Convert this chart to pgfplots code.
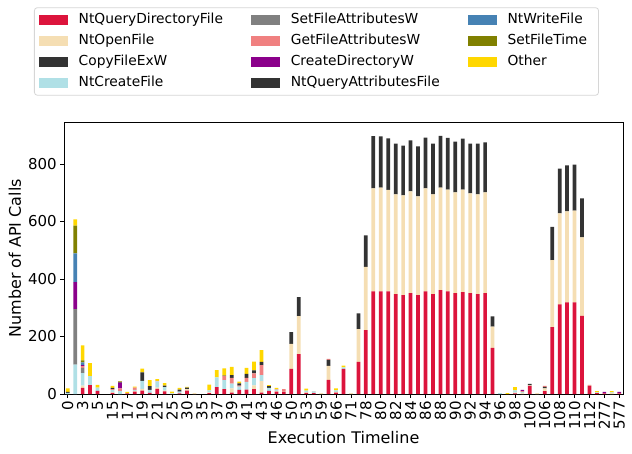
\documentclass[border=0pt]{standalone}
\usepackage{fontspec}
\setmainfont{DejaVu Sans}
\usepackage{pgfplots}
\pgfplotsset{compat=1.18}
\usepackage{pgfplotstable}
\definecolor{cQDF}{HTML}{DC143C}
\definecolor{cOF}{HTML}{F5DEB3}
\definecolor{cCF}{HTML}{333333}
\definecolor{cCR}{HTML}{B0E0E6}
\definecolor{cSFA}{HTML}{808080}
\definecolor{cGFA}{HTML}{F08080}
\definecolor{cCD}{HTML}{8B008B}
\definecolor{cQAF}{HTML}{333333}
\definecolor{cWF}{HTML}{4682B4}
\definecolor{cSFT}{HTML}{808000}
\definecolor{cOT}{HTML}{FFD700}
\definecolor{legendgray}{HTML}{D6D6D6}
% x QDF OF CF CR SFA GFA CD QAF WF SFT OT
\pgfplotstableread{
x a b c d e f g h i j k
0 0 0 0 4 0 0 0 3 0 0 13
1 0 0 0 102 193 0 94 0 100 97 21
2 21 8 0 44 18 6 3 0 10 7 52
3 31 0 0 31 0 0 0 0 0 0 45
4 11 0 0 11 0 0 0 0 0 0 10
5 0 0 0 0 0 0 0 0 0 0 0
6 4 2 0 8 0 3 0 4 0 0 7
7 0 0 0 10 0 10 20 3 0 0 2
8 2 0 0 0 0 0 0 0 0 0 5
9 8 3 0 3 0 8 0 0 0 0 4
10 12 6 0 28 0 0 0 29 0 0 13
11 4 0 0 10 0 0 0 13 0 0 21
12 18 4 0 22 0 2 0 0 0 0 6
13 9 3 0 12 0 0 0 5 0 0 9
14 0 1 0 2 0 0 0 0 0 0 5
15 2 0 0 6 0 0 0 7 0 0 6
16 12 5 5 0 0 0 0 0 0 0 3
17 0 3 0 0 0 0 0 0 0 0 0
18 0 0 0 0 0 0 0 0 0 0 0
19 3 3 0 7 0 0 0 0 0 0 20
20 24 0 0 34 0 0 0 0 0 0 25
21 17 0 0 31 0 14 0 2 0 0 25
22 5 15 0 16 0 20 0 10 0 0 28
23 14 0 0 12 0 3 0 8 0 0 6
24 15 0 0 27 0 14 0 14 0 0 21
25 17 13 0 25 0 17 0 10 0 0 31
26 5 40 0 21 0 34 0 12 0 0 41
27 11 0 0 10 0 0 0 6 0 0 4
28 8 3 0 4 0 2 0 0 0 0 4
29 8 2 0 0 0 7 0 0 0 0 0
30 87 87 41 0 0 0 0 0 0 0 0
31 139 132 66 0 0 0 0 0 0 0 0
32 4 2 0 6 0 0 0 0 0 0 7
33 3 1 0 5 0 1 0 0 0 0 0
34 0 3 0 0 0 0 0 0 0 0 0
35 49 49 21 0 0 3 0 0 0 0 0
36 5 2 0 6 0 0 0 0 0 0 7
37 87 0 0 6 0 0 0 0 0 0 6
38 0 3 0 0 0 0 0 0 0 0 0
39 112 114 54 0 0 0 0 0 0 0 0
40 222 220 110 0 0 0 0 0 0 0 0
41 357 358 182 0 0 0 0 0 0 0 0
42 357 361 178 0 0 0 0 0 0 0 0
43 357 353 179 0 0 0 0 0 0 0 0
44 347 347 177 0 0 0 0 0 0 0 0
45 344 347 173 0 0 0 0 0 0 0 0
46 351 354 177 0 0 0 0 0 0 0 0
47 344 343 174 0 0 0 0 0 0 0 0
48 357 358 177 0 0 0 0 0 0 0 0
49 347 347 177 0 0 0 0 0 0 0 0
50 361 357 180 0 0 0 0 0 0 0 0
51 357 354 180 0 0 0 0 0 0 0 0
52 351 350 177 0 0 0 0 0 0 0 0
53 354 357 177 0 0 0 0 0 0 0 0
54 351 347 173 0 0 0 0 0 0 0 0
55 347 347 177 0 0 0 0 0 0 0 0
56 351 350 174 0 0 0 0 0 0 0 0
57 160 74 36 0 0 0 0 0 0 0 0
58 0 0 0 3 0 0 0 0 0 0 0
59 0 0 0 0 0 0 0 0 0 0 3
60 2 3 0 8 0 0 0 0 0 0 11
61 0 4 0 3 0 3 4 0 0 0 0
62 28 2 5 0 0 0 0 0 0 0 0
63 0 3 0 0 0 0 0 0 0 0 0
64 10 10 5 0 0 3 0 0 0 0 0
65 233 233 115 0 0 0 0 0 0 0 0
66 312 316 156 0 0 0 0 0 0 0 0
67 319 316 160 0 0 0 0 0 0 0 0
68 319 319 160 0 0 0 0 0 0 0 0
69 272 273 135 0 0 0 0 0 0 0 0
70 29 2 0 0 0 1 0 0 0 0 0
71 3 0 0 3 0 0 0 0 0 0 4
72 2 0 0 0 0 1 4 0 0 0 0
73 0 3 0 3 0 0 0 0 0 0 4
74 2 0 0 0 0 1 4 0 0 0 0
}\data
\pgfplotsset{mylg/.style={legend image code/.code={\fill[sharp corners,#1] (0bp,-4.2bp) rectangle (28bp,4.2bp);}}}
\begin{document}
\begin{tikzpicture}
\useasboundingbox (-64bp,-60bp) rectangle (568bp,394bp);
\begin{axis}[
  at={(0,0)}, anchor=south west,
  scale only axis, width=559bp, height=271.3bp,
  ybar stacked, bar width=0.5,
  xmin=-0.5, xmax=74.5, ymin=0, ymax=943.6,
  xtick={0,2,...,74},
  xticklabels={0,3,5,15,17,19,21,25,30,35,37,39,41,43,46,50,53,59,66,71,78,80,82,84,86,88,90,92,94,96,98,100,106,108,110,112,277,577},
  ytick={0,200,400,600,800},
  tick pos=left, tick align=outside, major tick length=3.5bp,
  every tick/.style={black, line width=0.8bp},
  axis line style={black, line width=0.8bp},
  /pgf/number format/assume math mode=true,
  ticklabel style={font=\fontsize{15bp}{18bp}\selectfont, inner sep=3.5bp},
  xticklabel style={rotate=90, anchor=east},
  xlabel={Execution Timeline}, ylabel={Number of API Calls},
  label style={font=\fontsize{16bp}{19bp}\selectfont},
  xlabel style={at={(axis description cs:0.5,-0.1622)}, anchor=center},
  ylabel style={at={(axis description cs:-0.0877,0.5)}, anchor=center},
  legend columns=3,
  legend cell align=left,
  legend style={
    at={(axis description cs:-0.0537,1.4255)}, anchor=north west,
    draw=legendgray, rounded corners=3bp, line width=0.8bp,
    inner xsep=4.5bp, inner ysep=5.8bp,
    font=\fontsize{13.8bp}{16bp}\selectfont,
    row sep=8bp,
    nodes={inner sep=0bp, text height=10bp, text depth=3bp},
    /tikz/every odd column/.append style={column sep=11bp},
    /tikz/every even column/.append style={column sep=28bp},
  },
]
\addlegendimage{mylg=cQDF}
\addlegendimage{mylg=cSFA}
\addlegendimage{mylg=cWF}
\addlegendimage{mylg=cOF}
\addlegendimage{mylg=cGFA}
\addlegendimage{mylg=cSFT}
\addlegendimage{mylg=cCF}
\addlegendimage{mylg=cCD}
\addlegendimage{mylg=cOT}
\addlegendimage{mylg=cCR}
\addlegendimage{mylg=cQAF}
\addplot[fill=cQDF, draw=none] table[x=x,y=a]{\data};
\addplot[fill=cOF, draw=none] table[x=x,y=b]{\data};
\addplot[fill=cCF, draw=none] table[x=x,y=c]{\data};
\addplot[fill=cCR, draw=none] table[x=x,y=d]{\data};
\addplot[fill=cSFA, draw=none] table[x=x,y=e]{\data};
\addplot[fill=cGFA, draw=none] table[x=x,y=f]{\data};
\addplot[fill=cCD, draw=none] table[x=x,y=g]{\data};
\addplot[fill=cQAF, draw=none] table[x=x,y=h]{\data};
\addplot[fill=cWF, draw=none] table[x=x,y=i]{\data};
\addplot[fill=cSFT, draw=none] table[x=x,y=j]{\data};
\addplot[fill=cOT, draw=none] table[x=x,y=k]{\data};
\legend{NtQueryDirectoryFile,SetFileAttributesW,NtWriteFile,NtOpenFile,GetFileAttributesW,SetFileTime\hspace*{7bp},CopyFileExW,CreateDirectoryW,Other,NtCreateFile,NtQueryAttributesFile}
\end{axis}
\end{tikzpicture}
\end{document}
